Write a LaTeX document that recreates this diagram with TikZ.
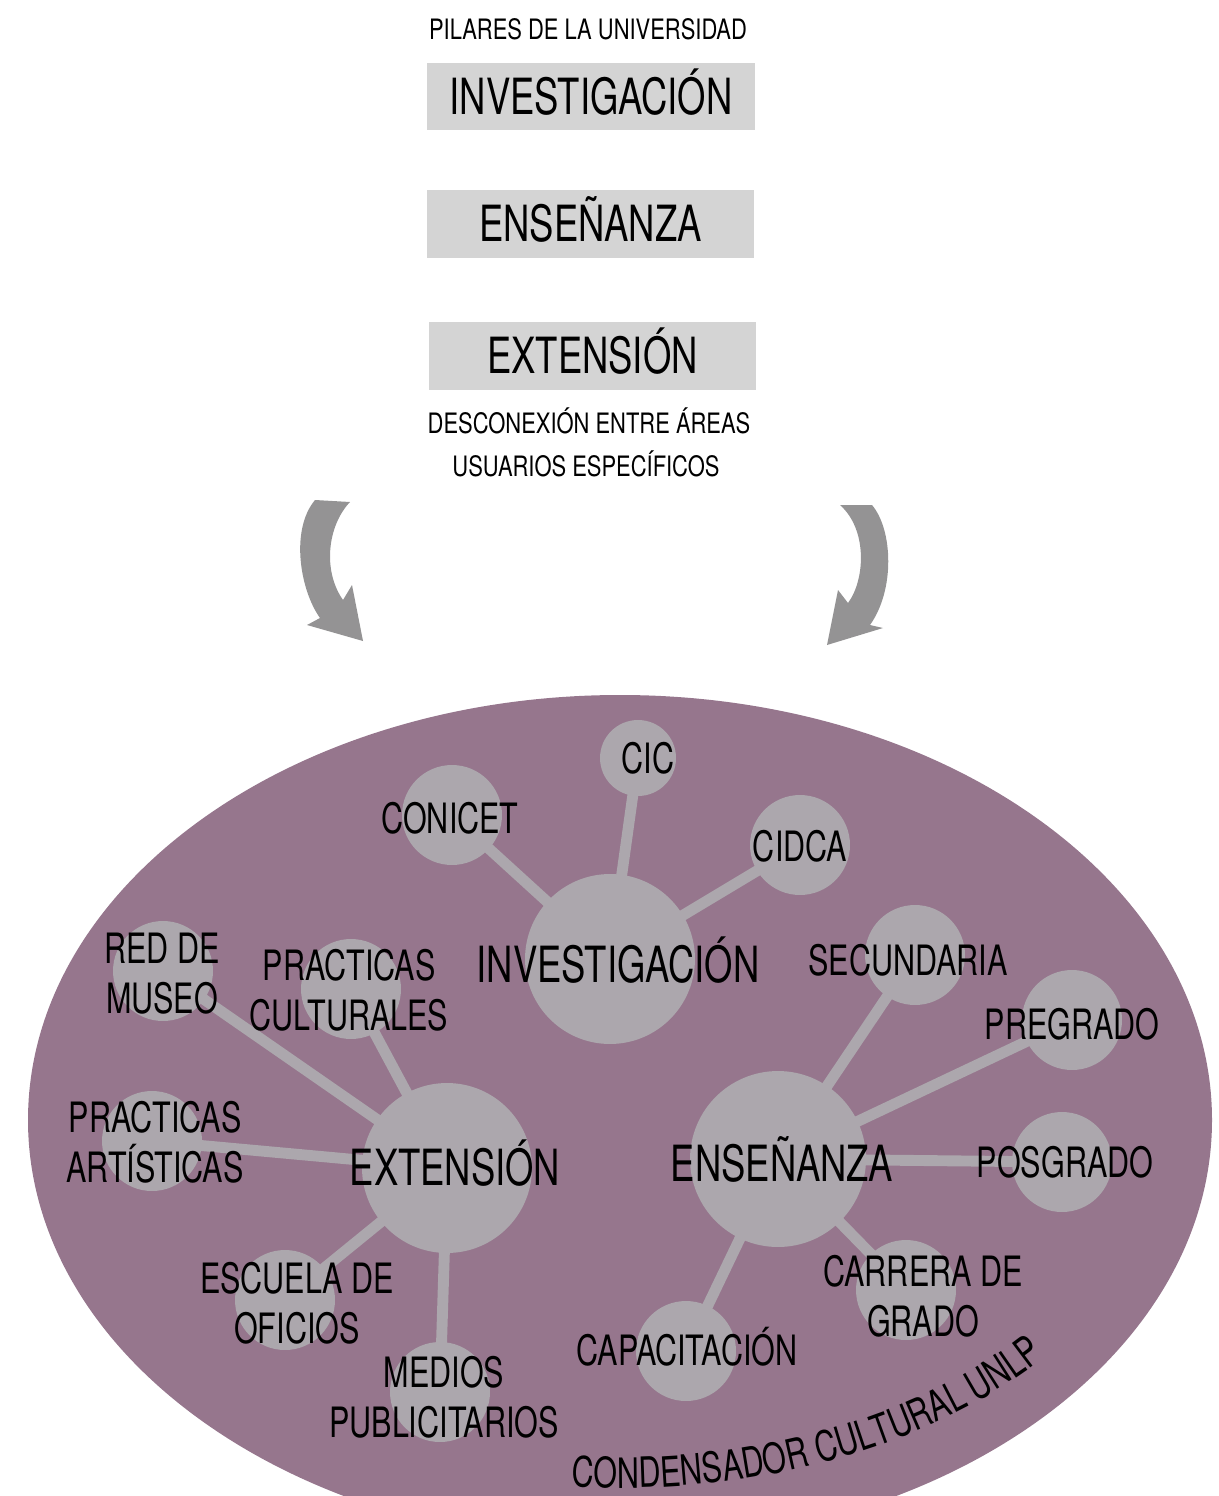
\documentclass[tikz,border=0pt]{standalone}
\usepackage{fontspec}
\setmainfont{TeX Gyre Heros}[FakeStretch=0.73]
\newfontfamily\captionfont{TeX Gyre Heros}[FakeStretch=0.78]
\usetikzlibrary{decorations.text}
\definecolor{plum}{HTML}{96768D}
\definecolor{bubble}{HTML}{ACA7AD}
\definecolor{pillarfill}{HTML}{D4D4D4}
\definecolor{arrowgray}{HTML}{949394}
\newcommand{\bigtext}{\fontsize{28.4}{32}\selectfont}
\newcommand{\midtext}{\fontsize{23.8}{28.4}\selectfont}
\newcommand{\smalltext}{\captionfont\fontsize{16}{20}\selectfont}

\begin{document}
\begin{tikzpicture}[
    x=0.02cm, y=-0.02cm,
    pillar/.style={rectangle, fill=pillarfill, minimum width=6.56cm, minimum height=1.36cm, inner sep=0pt, font=\bigtext, text height=20.4pt, text depth=0pt},
    hub/.style={circle, fill=bubble, minimum size=3.4cm, inner sep=0pt},
    leaf/.style={circle, fill=bubble, minimum size=2cm, inner sep=0pt},
    link/.style={draw=bubble, line width=6.2pt},
    biglabel/.style={anchor=base, font=\bigtext, inner sep=0pt},
    tag/.style={anchor=base, font=\midtext, align=center, inner sep=0pt},
    note/.style={anchor=base, font=\smalltext, inner sep=0pt},
    curvedarrow/.style={fill=arrowgray}
]
    \useasboundingbox (0,0) rectangle (1219,1496);

    % pilares
    \node[note] (pilares) at (588,40) {PILARES DE LA UNIVERSIDAD};
    \node[pillar] (boxinv) at (591,96.5) {INVESTIGACIÓN};
    \node[pillar] (boxens) at (590.5,224) {ENSEÑANZA};
    \node[pillar] (boxext) at (592.5,356) {EXTENSIÓN};
    \node[note] (desconexion) at (589,433) {DESCONEXIÓN ENTRE ÁREAS};
    \node[note] (usuarios) at (586,476) {USUARIOS ESPECÍFICOS};

    % flechas curvas
    \fill[curvedarrow] (315,500) -- (350,502) .. controls (328,525) and (322,570) .. (343,600)
        -- (352,585) -- (363,641) -- (307,625) -- (320,618)
        .. controls (300,590) and (290,530) .. (315,500) -- cycle;
    \fill[curvedarrow] (840,505) -- (872,505) .. controls (893,530) and (895,590) .. (870,625)
        -- (883,628) -- (827,645) -- (838,590) -- (848,603)
        .. controls (865,580) and (868,530) .. (840,505) -- cycle;

    % condensador
    \fill[plum] (620,1120) ellipse [x radius=592, y radius=425];

    \node[leaf, minimum size=1.52cm] (cic) at (638,758) {};
    \node[leaf] (conicet) at (452,815) {};
    \node[leaf] (cidca) at (800,845) {};
    \node[hub] (inv) at (610,959) {};
    \node[leaf] (secundaria) at (915,955) {};
    \node[leaf] (pregrado) at (1072,1020) {};
    \node[hub, minimum size=3.52cm] (ens) at (778,1159) {};
    \node[leaf] (posgrado) at (1062,1162) {};
    \node[leaf] (carrera) at (906,1290) {};
    \node[leaf] (capacitacion) at (686,1351) {};
    \node[hub] (ext) at (447,1168) {};
    \node[leaf] (museo) at (163,971) {};
    \node[leaf] (pcult) at (351,989) {};
    \node[leaf] (partes) at (152,1141) {};
    \node[leaf] (escuela) at (285,1300) {};
    \node[leaf] (medios) at (440,1392) {};

    \draw[link] (inv.center) -- (cic.center);
    \draw[link] (inv.center) -- (conicet.center);
    \draw[link] (inv.center) -- (cidca.center);
    \draw[link] (ens.center) -- (secundaria.center);
    \draw[link] (ens.center) -- (pregrado.center);
    \draw[link] (ens.center) -- (posgrado.center);
    \draw[link] (ens.center) -- (carrera.center);
    \draw[link] (ens.center) -- (capacitacion.center);
    \draw[link] (ext.center) -- (museo.center);
    \draw[link] (ext.center) -- (pcult.center);
    \draw[link] (ext.center) -- (partes.center);
    \draw[link] (ext.center) -- (escuela.center);
    \draw[link] (ext.center) -- (medios.center);

    \node[tag] (cictext) at (648,773) {CIC};
    \node[tag] (conicettext) at (450,833) {CONICET};
    \node[tag] (cidcatext) at (800,861) {CIDCA};
    \node[biglabel] (invtext) at (618,982) {INVESTIGACIÓN};
    \node[tag] (secundariatext) at (908,975) {SECUNDARIA};
    \node[tag] (pregradotext) at (1072,1039) {PREGRADO};
    \node[tag] (posgradotext) at (1065,1177) {POSGRADO};
    \node[biglabel] (enstext) at (782,1181) {ENSEÑANZA};
    \node[tag] (carreratext) at (923,1336) {CARRERA DE\\GRADO};
    \node[tag] (capacitaciontext) at (687,1365) {CAPACITACIÓN};
    \node[biglabel] (exttext) at (455,1185) {EXTENSIÓN};
    \node[tag] (museotext) at (162,1013) {RED DE\\MUSEO};
    \node[tag] (pculttext) at (349,1030) {PRACTICAS\\CULTURALES};
    \node[tag] (partestext) at (155,1182) {PRACTICAS\\ARTÍSTICAS};
    \node[tag] (escuelatext) at (297,1343) {ESCUELA DE\\OFICIOS};
    \node[tag] (mediostext) at (444,1437) {MEDIOS\\PUBLICITARIOS};

    \path[decorate, decoration={text along path, text={|\midtext|CONDENSADOR CULTURAL UNLP}}]
        (620,1120) ++(95:555 and 368) arc[start angle=95, end angle=25, x radius=555, y radius=368];
\end{tikzpicture}
\end{document}
